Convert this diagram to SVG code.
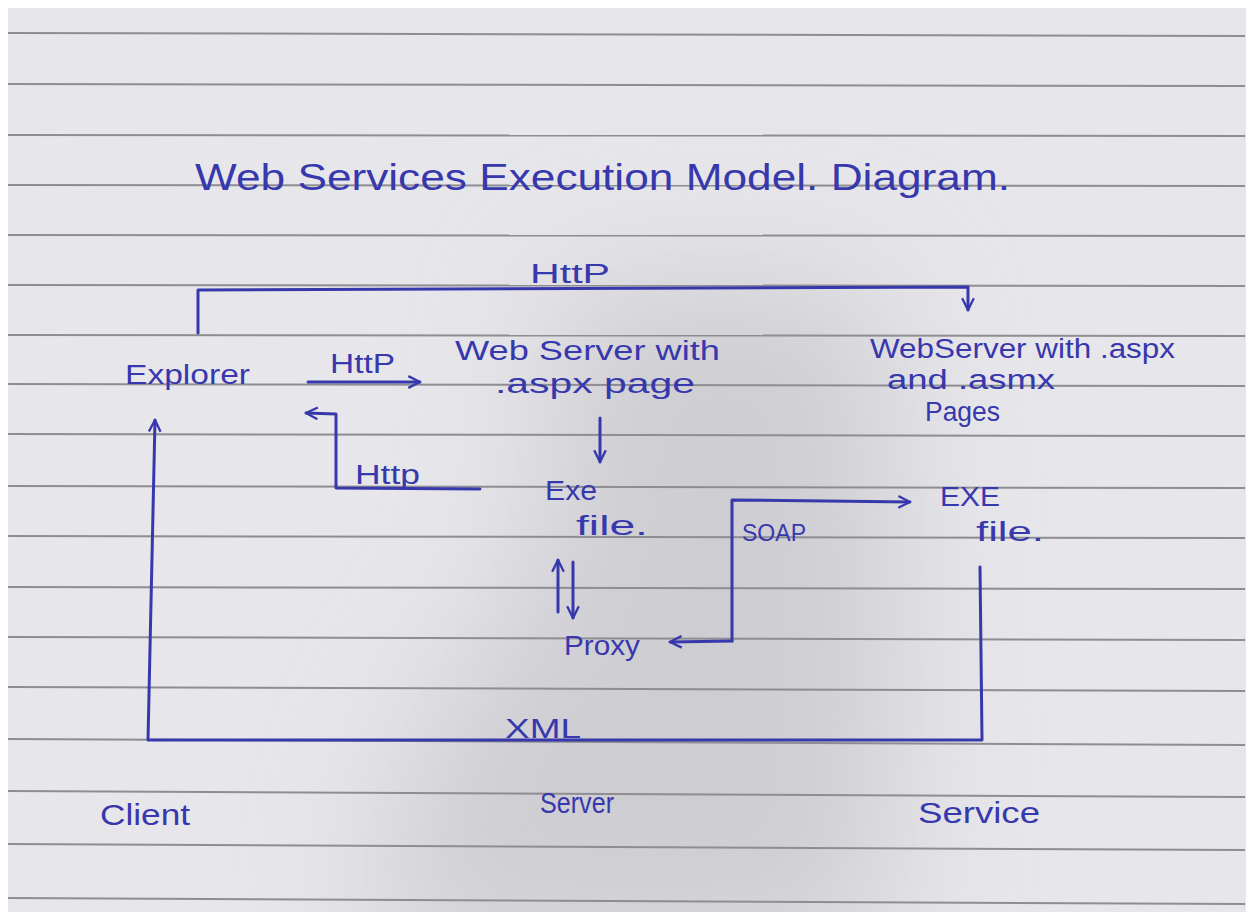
<svg xmlns="http://www.w3.org/2000/svg" width="1253" height="918" viewBox="0 0 1253 918">
<defs>
<style>
.ink{fill:#3838ad;font-family:"Liberation Sans",Arial,sans-serif;}
.t{font-size:27px;}
.conn{fill:none;stroke:#3838ad;stroke-width:3;stroke-linecap:round;stroke-linejoin:round;}
.rule{stroke:#8d8d92;stroke-width:2;fill:none;}
</style>
<marker id="ah" viewBox="0 0 12 12" refX="11" refY="6" markerWidth="14" markerHeight="14" markerUnits="userSpaceOnUse" orient="auto">
<path d="M1,1 L11,6 L1,11" fill="none" stroke="#3838ad" stroke-width="2"/>
</marker>
<filter id="blur" x="-100%" y="-100%" width="300%" height="300%"><feGaussianBlur stdDeviation="70"/></filter>
<clipPath id="page"><rect x="8" y="8" width="1238" height="904"/></clipPath>
</defs>
<rect x="0" y="0" width="1253" height="918" fill="#ffffff"/>
<rect x="8" y="8" width="1238" height="904" fill="#e7e7eb"/>
<g id="shadow" clip-path="url(#page)">
<path d="M560,280 L880,280 L900,620 L880,960 L360,960 L420,740 L540,560 Z" fill="#b4b4ba" opacity="0.5" filter="url(#blur)"/>
</g>
<g id="rules">
<path class="rule" d="M8,33 L1245,36"/>
<path class="rule" d="M8,84 L1245,86"/>
<path class="rule" d="M8,135 L1245,136"/>
<path class="rule" d="M8,185 L1245,186"/>
<path class="rule" d="M8,235 L1245,236"/>
<path class="rule" d="M8,285 L1245,286"/>
<path class="rule" d="M8,335 L1245,336"/>
<path class="rule" d="M8,384 L1245,386"/>
<path class="rule" d="M8,434 L1245,436"/>
<path class="rule" d="M8,486 L1245,488"/>
<path class="rule" d="M8,536 L1245,538"/>
<path class="rule" d="M8,587 L1245,589"/>
<path class="rule" d="M8,637 L1245,640"/>
<path class="rule" d="M8,687 L1245,691"/>
<path class="rule" d="M8,739 L1245,745"/>
<path class="rule" d="M8,791 L1245,797"/>
<path class="rule" d="M8,844 L1245,850"/>
<path class="rule" d="M8,898 L1245,904"/>
</g>
<g id="title"><text class="ink" x="195" y="190" font-size="37" textLength="815" lengthAdjust="spacingAndGlyphs">Web Services Execution Model. Diagram.</text></g>
<g id="connectors">
<path class="conn" d="M198,333 L198,290 L968,287 L968,310" marker-end="url(#ah)"/>
<path class="conn" d="M308,382 L420,382" marker-end="url(#ah)"/>
<path class="conn" d="M480,489 L336,488 L336,414 L306,413" marker-end="url(#ah)"/>
<path class="conn" d="M600,418 L600,462" marker-end="url(#ah)"/>
<path class="conn" d="M558,612 L558,560" marker-end="url(#ah)"/>
<path class="conn" d="M573,562 L573,618" marker-end="url(#ah)"/>
<path class="conn" d="M732,641 L670,642" marker-end="url(#ah)"/>
<path class="conn" d="M732,641 L732,500 L910,502" marker-end="url(#ah)"/>
<path class="conn" d="M980,567 L982,740 L148,740 L155,420" marker-end="url(#ah)"/>
<text class="ink t" x="530" y="283" textLength="80" lengthAdjust="spacingAndGlyphs">HttP</text>
<text class="ink t" x="330" y="373" textLength="65" lengthAdjust="spacingAndGlyphs">HttP</text>
<text class="ink t" x="355" y="484" textLength="65" lengthAdjust="spacingAndGlyphs">Http</text>
<text class="ink" font-size="23" x="742" y="541" textLength="64" lengthAdjust="spacingAndGlyphs">SOAP</text>
<text class="ink t" x="505" y="738" textLength="76" lengthAdjust="spacingAndGlyphs">XML</text>
</g>
<g id="explorer"><text class="ink t" x="125" y="384" textLength="125" lengthAdjust="spacingAndGlyphs">Explorer</text></g>
<g id="webserver-aspx">
<text class="ink t" x="455" y="360" textLength="265" lengthAdjust="spacingAndGlyphs">Web Server with</text>
<text class="ink t" x="495" y="393" textLength="200" lengthAdjust="spacingAndGlyphs">.aspx page</text>
</g>
<g id="webserver-asmx">
<text class="ink t" x="870" y="358" textLength="305" lengthAdjust="spacingAndGlyphs">WebServer with .aspx</text>
<text class="ink t" x="887" y="389" textLength="168" lengthAdjust="spacingAndGlyphs">and .asmx</text>
<text class="ink t" x="925" y="421" textLength="75" lengthAdjust="spacingAndGlyphs">Pages</text>
</g>
<g id="exe-server">
<text class="ink t" x="545" y="500" textLength="52" lengthAdjust="spacingAndGlyphs">Exe</text>
<text class="ink t" x="576" y="535" textLength="72" lengthAdjust="spacingAndGlyphs">file.</text>
</g>
<g id="proxy"><text class="ink t" x="564" y="655" textLength="76" lengthAdjust="spacingAndGlyphs">Proxy</text></g>
<g id="exe-service">
<text class="ink t" x="940" y="506" textLength="60" lengthAdjust="spacingAndGlyphs">EXE</text>
<text class="ink t" x="976" y="541" textLength="68" lengthAdjust="spacingAndGlyphs">file.</text>
</g>
<g id="client"><text class="ink" font-size="29" x="100" y="825" textLength="90" lengthAdjust="spacingAndGlyphs">Client</text></g>
<g id="server"><text class="ink" font-size="29" x="540" y="813" textLength="74" lengthAdjust="spacingAndGlyphs">Server</text></g>
<g id="service"><text class="ink" font-size="29" x="918" y="823" textLength="122" lengthAdjust="spacingAndGlyphs">Service</text></g>
</svg>
